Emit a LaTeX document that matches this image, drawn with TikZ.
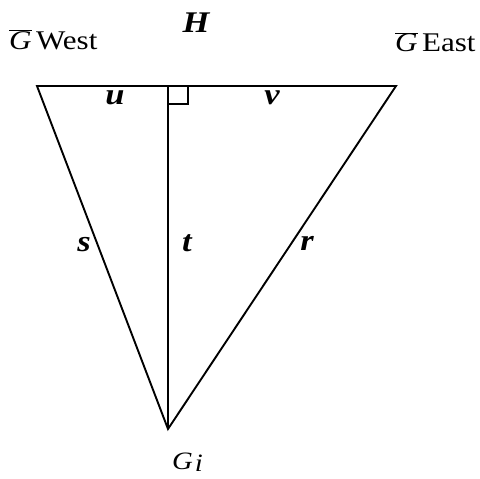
\documentclass[tikz,border=0pt]{standalone}
\usepackage{fontspec}
\setmainfont[FakeStretch=1.15]{Liberation Serif}
\usepackage{tikz}
\usetikzlibrary{positioning,calc}

\begin{document}
\begin{tikzpicture}[
    x=1pt, y=-1pt,
    edge/.style={line width=1.9pt, black},
    tag/.style={font=\fontsize{27}{30}\selectfont, inner sep=0pt},
    side/.style={font=\fontsize{30}{34}\selectfont\bfseries\itshape, inner sep=0pt}
  ]
    \useasboundingbox (0,0) rectangle (480,479);

    % corners of the triangle
    \coordinate (west) at (37,86);
    \coordinate (foot) at (168,86);
    \coordinate (east) at (396,86);
    \coordinate (apex) at (168,429);

    \draw[edge] (west) -- (east) -- (apex) -- cycle;
    \draw[edge] (foot) -- (apex);
    \draw[line width=1.5pt] ($(foot)+(0,18)$) -- ($(foot)+(20,18)$) -- ($(foot)+(20,0)$);

    % point labels
    \node[tag, anchor=base west] (gwest) at (9,49) {$\overline{\mbox{\textit{G}}}$\,West};
    \node[tag, anchor=base west] (geast) at (395,52) {$\overline{\mbox{\textit{G}}}$\,East};
    \node[side] (h) at (196,23) {H};
    \node[tag, anchor=base west, font=\fontsize{25}{28}\selectfont] (gi) at (172,469) {\textit{G}\kern2pt\raisebox{-0.2ex}{\textit{i}}};

    % side labels
    \node[side, anchor=base] (u) at (115,104) {u};
    \node[side, anchor=base] (v) at (272,104) {v};
    \node[side] (s) at (84,245) {s};
    \node[side] (t) at (187,243) {t};
    \node[side] (r) at (307,243) {r};
  \end{tikzpicture}
\end{document}
